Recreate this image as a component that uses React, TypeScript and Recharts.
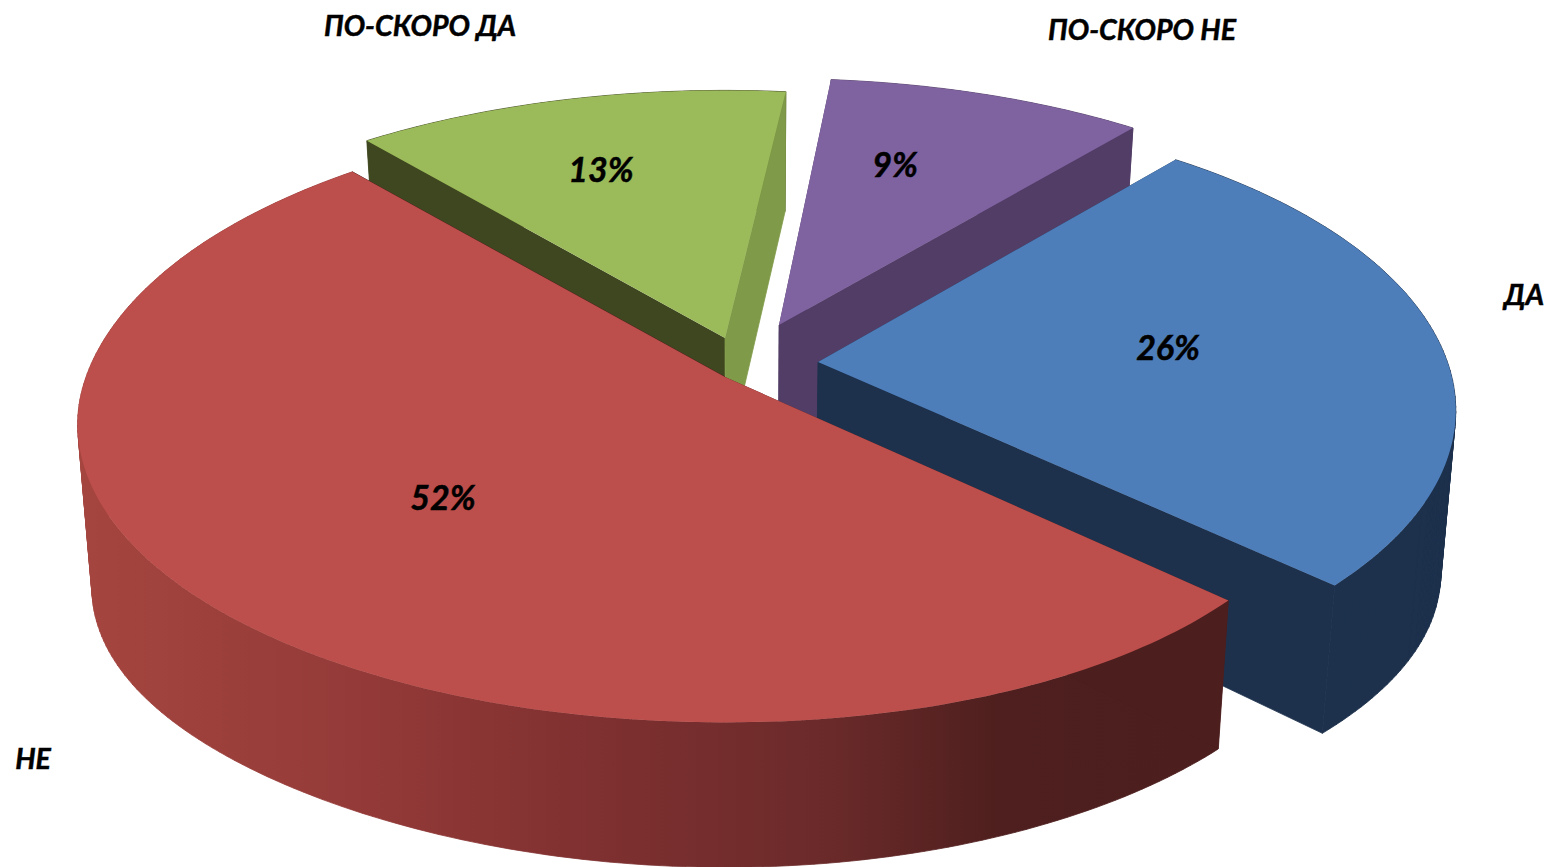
/**
 * 3D exploded pie, drawn by a custom Pie shape.
 * Recharts gives each slice its angles, the shape projects them in perspective.
 */
import { Pie, PieChart } from 'recharts';

// clockwise, and back to front so the later slices cover the earlier ones
const categories = ['ПО-СКОРО ДА', 'ПО-СКОРО НЕ', 'ДА', 'НЕ'];
const shares = [13, 9, 26, 52];

const chartData = categories.map((name, i) => ({ name, value: shares[i] }));

const FONT = 'Lato, "Open Sans", sans-serif';
const TILT = 0.454;
const PERSPECTIVE = 0.16;
const VANISH_X = 750;
const BOTTOM_SCALE = 0.979;

// per slice, same order as the data. squeeze narrows the right side, back pushes the far rim out,
// the spins are small corrections in degrees for the source picture's odd projection
const explode = [
    { dx: 0, dy: -39, scale: 0.99, squeeze: 0, back: 0, startSpin: 0, endSpin: 0.9 },
    { dx: 54, dy: -52, scale: 0.985, squeeze: 0, back: 0, startSpin: 1.8, endSpin: 0.5 },
    { dx: 93, dy: -15, scale: 1, squeeze: 0.015, back: 0.015, startSpin: 0.7, endSpin: 0 },
    { dx: 0, dy: 0, scale: 1, squeeze: 0.05, back: 0.05, startSpin: 0, endSpin: 0 },
];
const colors = [
    { top: '#9bba59', rim: '#3f4720', startWall: '#3f4720', endWall: '#7f9a48' },
    { top: '#7f62a0', rim: '#523d66', startWall: '#523d66', endWall: '#523d66' },
    { top: '#4e7eba', rim: '#1d314c', startWall: '#1d314c', endWall: '#1d314c' },
    { top: '#bc4e4b', rim: 'url(#redWall)', startWall: '#4c1e1e', endWall: '#4c1e1e' },
];
const percentPos = [
    [601, 168],
    [895, 163],
    [1168, 346],
    [443, 496],
];
const namePos = [
    [420, 25],
    [1142, 29],
    [1524, 294],
    [33, 758],
];

type Pt = [number, number];

const toPath = (pts: Pt[]) =>
    pts.map((p, i) => `${i ? 'L' : 'M'}${p[0].toFixed(1)},${p[1].toFixed(1)}`).join('') + 'Z';

// same winding for every quad, otherwise overlapping quads cancel out in one path
const clockwise = (pts: Pt[]) => {
    const area = pts.reduce((sum, p, i) => {
        const q = pts[(i + 1) % pts.length];
        return sum + p[0] * q[1] - q[0] * p[1];
    }, 0);
    return area < 0 ? [...pts].reverse() : pts;
};

// floor of the slice under a point of its top face; u is how far out to the side the point is
const lower = ([x, y]: Pt, u = 0): Pt => [
    VANISH_X + (x - VANISH_X) * BOTTOM_SCALE,
    y + 116 + 0.04 * y + 30 * u ** 4,
];

function Slice3D(props: any) {
    const { cx, cy, outerRadius, startAngle, endAngle, index } = props;
    const { dx, dy, scale, squeeze, back, startSpin, endSpin } = explode[index];
    const c = colors[index];
    const rim = (deg: number): Pt => {
        const u = Math.cos((deg * Math.PI) / 180);
        const v = -Math.sin((deg * Math.PI) / 180);
        const d = 1 - PERSPECTIVE * v;
        const f = scale * (1 + back * (v < 0 ? v * v : 0));
        const fx = f * (1 - squeeze * Math.max(u, 0));
        return [cx + dx + (outerRadius * fx * u) / d, cy + dy + (outerRadius * TILT * f * v) / d];
    };
    const apex: Pt = [cx + dx, cy + dy];
    const from = startAngle + startSpin;
    const to = endAngle + endSpin;
    const angles: number[] = [];
    const steps = Math.ceil(Math.abs(to - from));
    for (let i = 0; i <= steps; i++) {
        angles.push(from + ((to - from) * i) / steps);
    }
    const arc = angles.map(rim);
    const floor = angles.map((a, i) => lower(arc[i], Math.cos((a * Math.PI) / 180)));
    const wall = (a: Pt, b: Pt, bFloor: Pt) => toPath([a, b, bFloor, lower(a)]);
    // one quad per step, so the side silhouette stays a straight sweep
    const rimPath = arc
        .slice(1)
        .map((p, i) => toPath(clockwise([arc[i], p, floor[i + 1], floor[i]])))
        .join('');
    return (
        <g>
            <path d={rimPath} fill={c.rim} stroke={c.rim} strokeWidth={0.8} />
            <path d={wall(apex, arc[0], floor[0])} fill={c.startWall} />
            <path d={wall(apex, arc[arc.length - 1], floor[floor.length - 1])} fill={c.endWall} stroke={c.endWall} strokeWidth={0.8} />
            <path d={toPath([apex, ...arc])} fill={c.top} />
        </g>
    );
}

function SliceLabels(props: any) {
    const { index, value, name } = props;
    const [px, py] = percentPos[index];
    const [nx, ny] = namePos[index];
    const common = {
        fontFamily: FONT,
        fontWeight: 700,
        fontStyle: 'italic',
        fill: '#000',
        stroke: '#000',
        strokeWidth: 0.5,
        textAnchor: 'middle',
        dominantBaseline: 'central',
    } as const;
    return (
        <g>
            <text x={px} y={py} fontSize={34} {...common}>{`${value}%`}</text>
            <text x={nx} y={ny} fontSize={28.5} {...common}>{name}</text>
        </g>
    );
}

export default function App() {
    return (
        <div style={{ position: 'absolute', left: 0, top: 0, width: 1555, height: 867, background: '#fff' }}>
            <PieChart width={1555} height={867} margin={{ top: 0, right: 0, bottom: 0, left: 0 }}>
                <defs>
                    <linearGradient id="redWall" gradientUnits="userSpaceOnUse" x1="80" y1="0" x2="1230" y2="0">
                        <stop offset="0%" stopColor="#a5453f" />
                        <stop offset="25%" stopColor="#933a38" />
                        <stop offset="45%" stopColor="#7f3030" />
                        <stop offset="65%" stopColor="#6b2a2a" />
                        <stop offset="80%" stopColor="#4e1f1e" />
                        <stop offset="100%" stopColor="#4c1e1e" />
                    </linearGradient>
                </defs>
                <Pie
                    data={chartData}
                    dataKey="value"
                    nameKey="name"
                    cx={725}
                    cy={377}
                    innerRadius={0}
                    outerRadius={639}
                    startAngle={129.5}
                    endAngle={-230.5}
                    paddingAngle={0}
                    stroke="none"
                    shape={Slice3D}
                    label={SliceLabels}
                    labelLine={false}
                    isAnimationActive={false}
                />
            </PieChart>
        </div>
    );
}
